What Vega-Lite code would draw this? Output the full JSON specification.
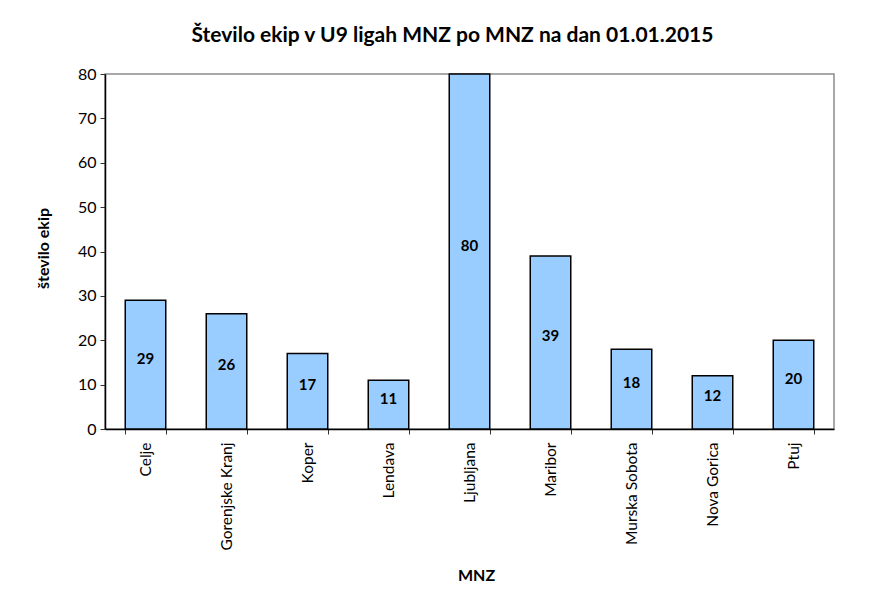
{
  "$schema": "https://vega.github.io/schema/vega-lite/v6.json",
  "width": 729,
  "height": 355,
  "autosize": {"type": "none"},
  "padding": {"left": 105, "top": 74, "right": 60, "bottom": 163},
  "background": "white",
  "title": {
    "text": "Število ekip v U9 ligah MNZ po MNZ na dan 01.01.2015",
    "font": "Lato",
    "fontSize": 21,
    "fontWeight": "bold",
    "color": "black",
    "anchor": "middle",
    "baseline": "alphabetic",
    "offset": 3,
    "dx": -17
  },
  "config": {
    "font": "Lato",
    "view": {"stroke": "#8c8c8c", "strokeWidth": 1.5}
  },
  "data": {
    "values": [
      {"MNZ": "Celje", "ekip": 29},
      {"MNZ": "Gorenjske Kranj", "ekip": 26},
      {"MNZ": "Koper", "ekip": 17},
      {"MNZ": "Lendava", "ekip": 11},
      {"MNZ": "Ljubljana", "ekip": 80},
      {"MNZ": "Maribor", "ekip": 39},
      {"MNZ": "Murska Sobota", "ekip": 18},
      {"MNZ": "Nova Gorica", "ekip": 12},
      {"MNZ": "Ptuj", "ekip": 20}
    ]
  },
  "encoding": {
    "x": {
      "field": "MNZ",
      "type": "nominal",
      "sort": null,
      "scale": {"paddingInner": 0.5, "paddingOuter": 0.25},
      "axis": {
        "title": "MNZ",
        "titleFontSize": 16,
        "titleFontWeight": "bold",
        "titleColor": "black",
        "titleX": 371,
        "titleY": 151,
        "titleAlign": "center",
        "titleBaseline": "alphabetic",
        "labelAngle": -90,
        "labelAlign": "right",
        "labelBaseline": "middle",
        "labelFontSize": 15.5,
        "labelColor": "black",
        "labelPadding": 8,
        "tickBand": "extent",
        "tickSize": 5,
        "tickColor": "#333",
        "domainColor": "black",
        "domainWidth": 1.5
      }
    }
  },
  "layer": [
    {
      "mark": {"type": "bar", "color": "#99CCFF", "stroke": "black", "strokeWidth": 1.5},
      "encoding": {
        "y": {
          "field": "ekip",
          "type": "quantitative",
          "scale": {"domain": [0, 80], "nice": false},
          "axis": {
            "title": "število ekip",
            "titleFontSize": 16,
            "titleFontWeight": "bold",
            "titleColor": "black",
            "titleX": -62,
            "titleY": 174,
            "titleAngle": -90,
            "titleBaseline": "middle",
            "titleAlign": "center",
            "values": [0, 10, 20, 30, 40, 50, 60, 70, 80],
            "grid": false,
            "labelFontSize": 16,
            "labelColor": "black",
            "labelPadding": 4,
            "tickSize": 5,
            "tickColor": "#333",
            "domainColor": "black",
            "domainWidth": 1.5
          }
        }
      }
    },
    {
      "mark": {"type": "text", "fontWeight": "bold", "fontSize": 15, "color": "black", "baseline": "middle", "dy": -6},
      "encoding": {
        "y": {
          "field": "ekip",
          "type": "quantitative",
          "scale": {"domain": [0, 160], "nice": false},
          "axis": null
        },
        "text": {"field": "ekip", "type": "quantitative"}
      }
    }
  ],
  "resolve": {"scale": {"y": "independent"}}
}
